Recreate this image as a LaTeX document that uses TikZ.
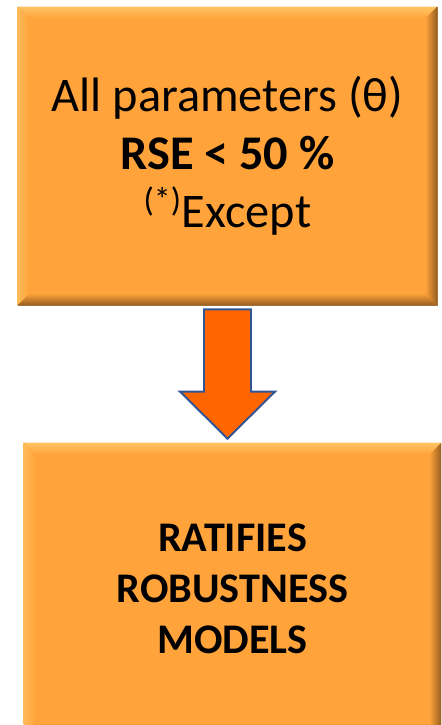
\documentclass[tikz,border=0pt]{standalone}
\usepackage{fontspec}
\setmainfont{Carlito}
\usepackage{tikz}
\usetikzlibrary{calc, positioning}

\definecolor{boxorange}{RGB}{255,163,58}
\definecolor{bevellight}{RGB}{255,196,100}
\definecolor{beveldark}{RGB}{150,92,30}
\definecolor{arroworange}{RGB}{255,102,0}
\definecolor{arrowblue}{RGB}{47,85,151}

\begin{document}
\begin{tikzpicture}[
    % Styles for the boxes and the block arrow
    bevelbox/.style={fill=boxorange, draw=beveldark!80, line width=0.4pt, align=center, inner sep=0pt},
    blockarrow/.style={fill=arroworange, draw=arrowblue, line width=1.1pt, line join=miter}
]
        \clip (0,0) rectangle (8.82,14.5);

        % --- Boxes ---
        \node[bevelbox, minimum width=8.38cm, minimum height=5.96cm,
              font={\fontsize{27.5}{33}\selectfont}] (params) at (4.55,11.38)
            {All parameters (θ)\\
             \textbf{RSE < 50 \%}\\
             \textsuperscript{(*)}Except};
        \node[bevelbox, minimum width=8.34cm, minimum height=5.84cm,
              font={\fontsize{24}{29}\selectfont\bfseries}] (ratify) at (4.65,2.72)
            {RATIFIES\\ ROBUSTNESS\\ MODELS};

        % --- Bevel edges ---
        \foreach \b in {params, ratify} {
            % top
            \shade[top color=bevellight, bottom color=boxorange]
                (\b.north west) -- (\b.north east) -- ($(\b.north east)+(-0.24,-0.24)$)
                -- ($(\b.north west)+(0.24,-0.24)$) -- cycle;
            % left
            \shade[left color=bevellight!70!boxorange, right color=boxorange]
                (\b.north west) -- ($(\b.north west)+(0.24,-0.24)$)
                -- ($(\b.south west)+(0.24,0.24)$) -- (\b.south west) -- cycle;
            % right
            \shade[left color=boxorange, right color=beveldark]
                (\b.north east) -- ($(\b.north east)+(-0.24,-0.24)$)
                -- ($(\b.south east)+(-0.24,0.24)$) -- (\b.south east) -- cycle;
            % bottom
            \shade[top color=boxorange, bottom color=beveldark]
                (\b.south west) -- ($(\b.south west)+(0.24,0.24)$)
                -- ($(\b.south east)+(-0.24,0.24)$) -- (\b.south east) -- cycle;
        }

        % --- Arrow ---
        \coordinate (tip) at ($(params.south |- ratify.north)+(0,0.08)$);
        \draw[blockarrow] ($(params.south)+(-0.47,-0.08)$) -- ($(params.south)+(0.47,-0.08)$)
            -- ($(tip)+(0.47,0.94)$) -- ($(tip)+(0.95,0.94)$) -- (tip)
            -- ($(tip)+(-0.95,0.94)$) -- ($(tip)+(-0.47,0.94)$) -- cycle;

\end{tikzpicture}
\end{document}
